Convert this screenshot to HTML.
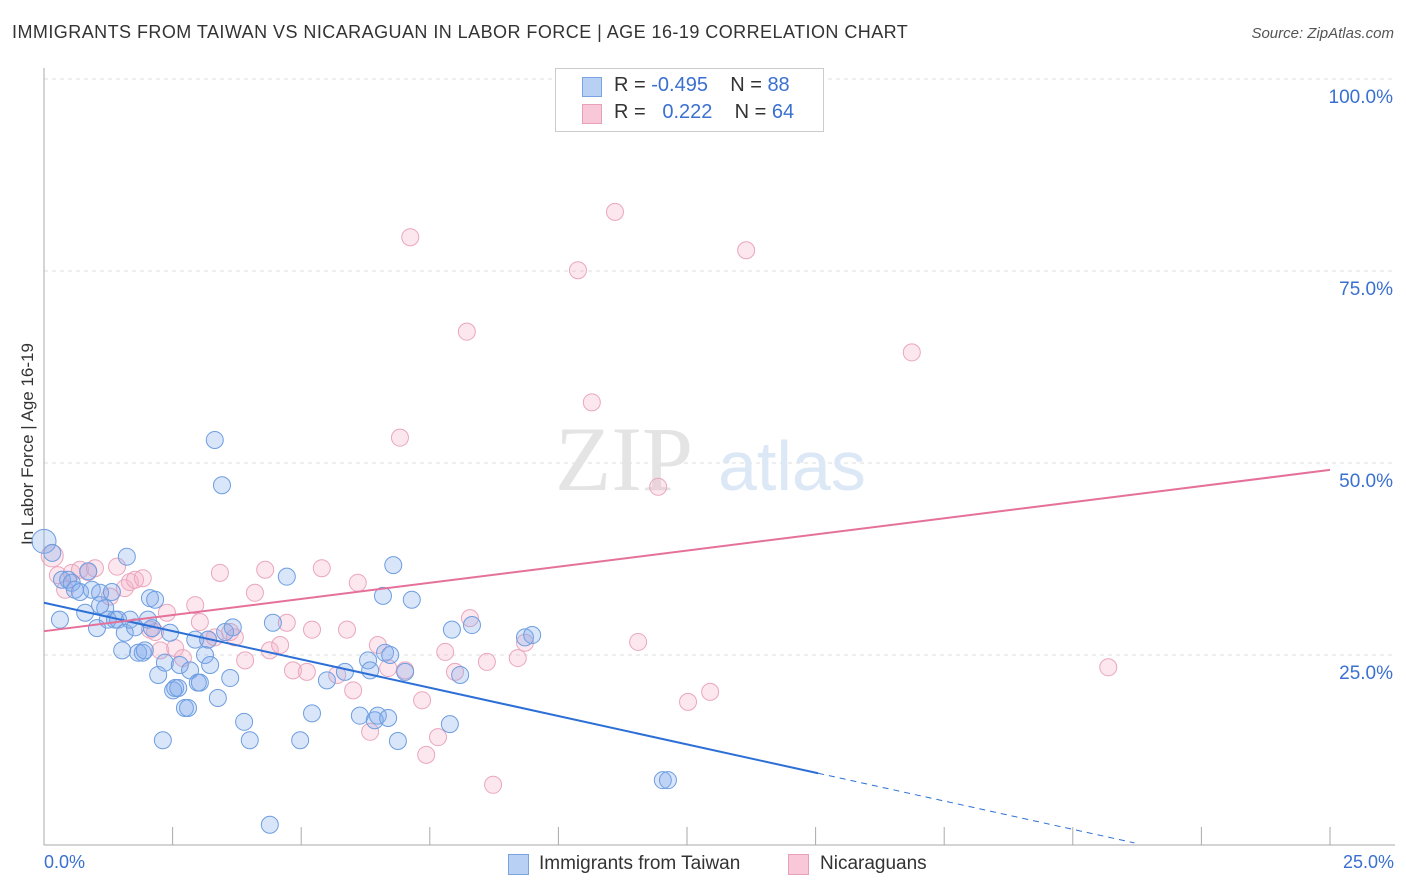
<!DOCTYPE html>
<html><head><meta charset="utf-8">
<style>
body{margin:0;background:#fff;font-family:"Liberation Sans",sans-serif;}
#wrap{position:relative;width:1406px;height:892px;overflow:hidden;}
.t{position:absolute;white-space:nowrap;}
</style></head>
<body>
<div id="wrap">
<div class="t" style="left:12px;top:22px;font-size:18px;color:#333;letter-spacing:0.45px">IMMIGRANTS FROM TAIWAN VS NICARAGUAN IN LABOR FORCE | AGE 16-19 CORRELATION CHART</div>
<div class="t" style="right:12px;top:25px;font-size:15px;color:#555;font-style:italic">Source: ZipAtlas.com</div>
<div class="t" style="left:-62px;top:445px;font-size:17px;color:#333;transform:rotate(-90deg);width:180px;text-align:center">In Labor Force | Age 16-19</div>
<svg id="svg" width="1406" height="892" style="position:absolute;left:0;top:0"></svg>
<div style="position:absolute;left:555px;top:68px;width:267px;height:62px;border:1px solid #ccc;background:#fff">
 <div style="position:absolute;left:26px;top:8px;width:18px;height:18px;background:#b8d0f4;border:1px solid #7aa3e0"></div>
 <div class="t" style="left:58px;top:5px;font-size:20px;color:#333">R = <span style="color:#3a70d0">-0.495</span>&nbsp;&nbsp;&nbsp; N = <span style="color:#3a70d0">88</span></div>
 <div style="position:absolute;left:26px;top:35px;width:18px;height:18px;background:#f8c8d8;border:1px solid #e8a0b8"></div>
 <div class="t" style="left:58px;top:32px;font-size:20px;color:#333">R = &nbsp;&nbsp;<span style="color:#3a70d0">0.222</span>&nbsp;&nbsp;&nbsp; N = <span style="color:#3a70d0">64</span></div>
</div>
<div class="t" style="left:44px;top:852px;font-size:18px;color:#3a70d0">0.0%</div>
<div class="t" style="right:12px;top:852px;font-size:18px;color:#3a70d0">25.0%</div>
<div style="position:absolute;left:508px;top:854px;width:19px;height:19px;background:#b8d0f4;border:1px solid #7aa3e0"></div>
<div class="t" style="left:539px;top:853px;font-size:19px;color:#333">Immigrants from Taiwan</div>
<div style="position:absolute;left:788px;top:854px;width:19px;height:19px;background:#f8c8d8;border:1px solid #e8a0b8"></div>
<div class="t" style="left:820px;top:853px;font-size:19px;color:#333">Nicaraguans</div>
</div>
<script>
const yTicks=[25,50,75,100];
const yTickLabels=["25.0%","50.0%","75.0%","100.0%"];
const xTicks=[0,2.5,5,7.5,10,12.5,15,17.5,20,22.5,25];
const taiwanX=[0,.16,.31,.35,.47,.54,.60,.70,.80,.86,.93,1.03,1.09,1.19,1.24,1.32,1.38,1.44,1.52,1.57,1.61,1.67,1.77,1.83,1.92,1.96,2.02,2.06,2.10,2.16,2.22,2.31,2.35,2.45,2.51,2.55,2.61,2.64,2.74,2.80,2.84,2.94,2.99,3.03,3.13,3.19,3.23,3.32,3.38,3.46,3.52,3.62,3.67,3.89,4.00,4.39,4.45,4.72,4.98,5.21,5.50,5.85,6.14,6.30,6.34,6.43,6.49,6.63,6.69,6.73,6.79,6.88,7.02,7.15,7.89,7.93,8.09,8.32,9.35,9.49,12.03,12.13,6.59,1.09];
const taiwanY=[39.8,38.3,29.6,34.8,34.8,34.4,33.5,33.2,30.5,35.9,33.5,28.5,33.1,31.1,29.6,33.2,29.6,29.6,25.6,27.9,37.8,29.6,28.6,25.3,25.3,25.6,29.6,32.4,28.5,32.2,22.4,13.9,24.0,27.9,20.4,20.7,20.7,23.7,18.1,18.1,23.0,27.0,21.4,21.4,25.0,27.0,23.7,53.0,19.4,47.1,28.0,22.0,28.6,16.3,13.9,2.9,29.2,35.2,13.9,17.4,21.7,22.8,17.1,24.3,23.0,16.5,17.1,25.3,16.8,25.0,36.7,13.8,22.8,32.2,16.0,28.3,22.4,28.9,27.3,27.6,8.7,8.7,32.7,31.5];
const nicX=[.16,.27,.41,.54,.70,.86,.99,1.28,1.42,1.57,1.67,1.77,1.92,2.06,2.16,2.26,2.39,2.55,2.70,2.94,3.03,3.19,3.32,3.42,3.62,3.71,3.91,4.10,4.30,4.39,4.59,4.72,4.84,5.11,5.21,5.40,5.70,5.89,6.01,6.10,6.34,6.49,6.69,6.92,7.02,7.12,7.35,7.43,7.66,7.80,7.99,8.22,8.28,8.61,8.73,9.21,9.35,10.38,10.65,11.10,11.55,11.94,12.52,12.95,13.65,16.87,20.69];
const nicY=[37.9,35.4,33.5,35.7,36.1,35.8,36.3,32.6,36.5,33.7,34.5,34.8,35.0,28.3,28.0,25.6,30.5,25.9,24.6,31.5,29.3,27.0,27.3,35.7,28.0,27.3,24.3,33.1,36.1,25.6,26.3,29.2,23.0,22.8,28.3,36.3,22.4,28.3,20.4,34.4,15.0,26.3,23.3,53.3,23.0,79.4,19.1,12.0,14.3,25.4,22.8,67.1,29.8,24.1,8.1,24.6,26.6,75.1,57.9,82.7,26.7,46.9,18.9,20.2,77.7,64.4,23.4];
const taiwanTrend=[31.8,-1.475];
const nicTrend=[28.1,0.84];
const X0=44,X1=1330,Y0=847,Y100=79;
const sx=v=>X0+(X1-X0)*v/25, sy=v=>Y0-(Y0-Y100)*v/100;
const svg=document.getElementById('svg');
function mk(tag,attrs){const e=document.createElementNS('http://www.w3.org/2000/svg',tag);for(const k in attrs)e.setAttribute(k,attrs[k]);svg.appendChild(e);return e;}
yTicks.forEach((t,i)=>{
 const g=mk('line',{x1:X0,x2:1395,y1:sy(t),y2:sy(t),stroke:'#ddd','stroke-dasharray':'4,4'});
 
 
 const tx=mk('text',{x:1393,y:sy(t)+24,'text-anchor':'end','font-size':19,fill:'#3a70d0','font-family':'Liberation Sans, sans-serif'});
 tx.textContent=yTickLabels[i];
 
 
});
const ax=mk('line',{x1:X0,x2:1395,y1:845,y2:845,stroke:'#aaa'});


const ay=mk('line',{x1:X0,x2:X0,y1:68,y2:845,stroke:'#aaa'});


xTicks.forEach(t=>{const l=mk('line',{x1:sx(t),x2:sx(t),y1:827,y2:845,stroke:'#aaa'});
 
 });
const wm=mk('text',{x:555,y:490,'font-size':92,fill:'#e4e4e4','font-family':'Liberation Serif, serif'});wm.textContent='ZIP';


const wm2=mk('text',{x:718,y:490,'font-size':70,fill:'#dce8f6','font-family':'Liberation Sans, sans-serif'});wm2.textContent='atlas';


nicX.forEach((x,i)=>{const c=mk('circle',{cx:sx(x),cy:sy(nicY[i]),r:i==0?11:8.5,fill:'rgba(245,175,200,0.3)',stroke:'#eaa6be','stroke-width':1});
 
 });
taiwanX.forEach((x,i)=>{const c=mk('circle',{cx:sx(x),cy:sy(taiwanY[i]),r:i==0?12:8.5,fill:'rgba(130,170,235,0.3)',stroke:'#6e9ee0','stroke-width':1});
 
 });
const tEnd=15.05,tDash=21.2;
const l1=mk('line',{x1:sx(0),y1:sy(taiwanTrend[0]),x2:sx(tEnd),y2:sy(taiwanTrend[0]+taiwanTrend[1]*tEnd),stroke:'#2c6fd6','stroke-width':2});


const l2=mk('line',{x1:sx(tEnd),y1:sy(taiwanTrend[0]+taiwanTrend[1]*tEnd),x2:sx(tDash),y2:sy(taiwanTrend[0]+taiwanTrend[1]*tDash),stroke:'#2c6fd6','stroke-width':1,'stroke-dasharray':'6,5'});


const l3=mk('line',{x1:sx(0),y1:sy(nicTrend[0]),x2:sx(25),y2:sy(nicTrend[0]+nicTrend[1]*25),stroke:'#e5709a','stroke-width':2});


</script>
</body></html>
